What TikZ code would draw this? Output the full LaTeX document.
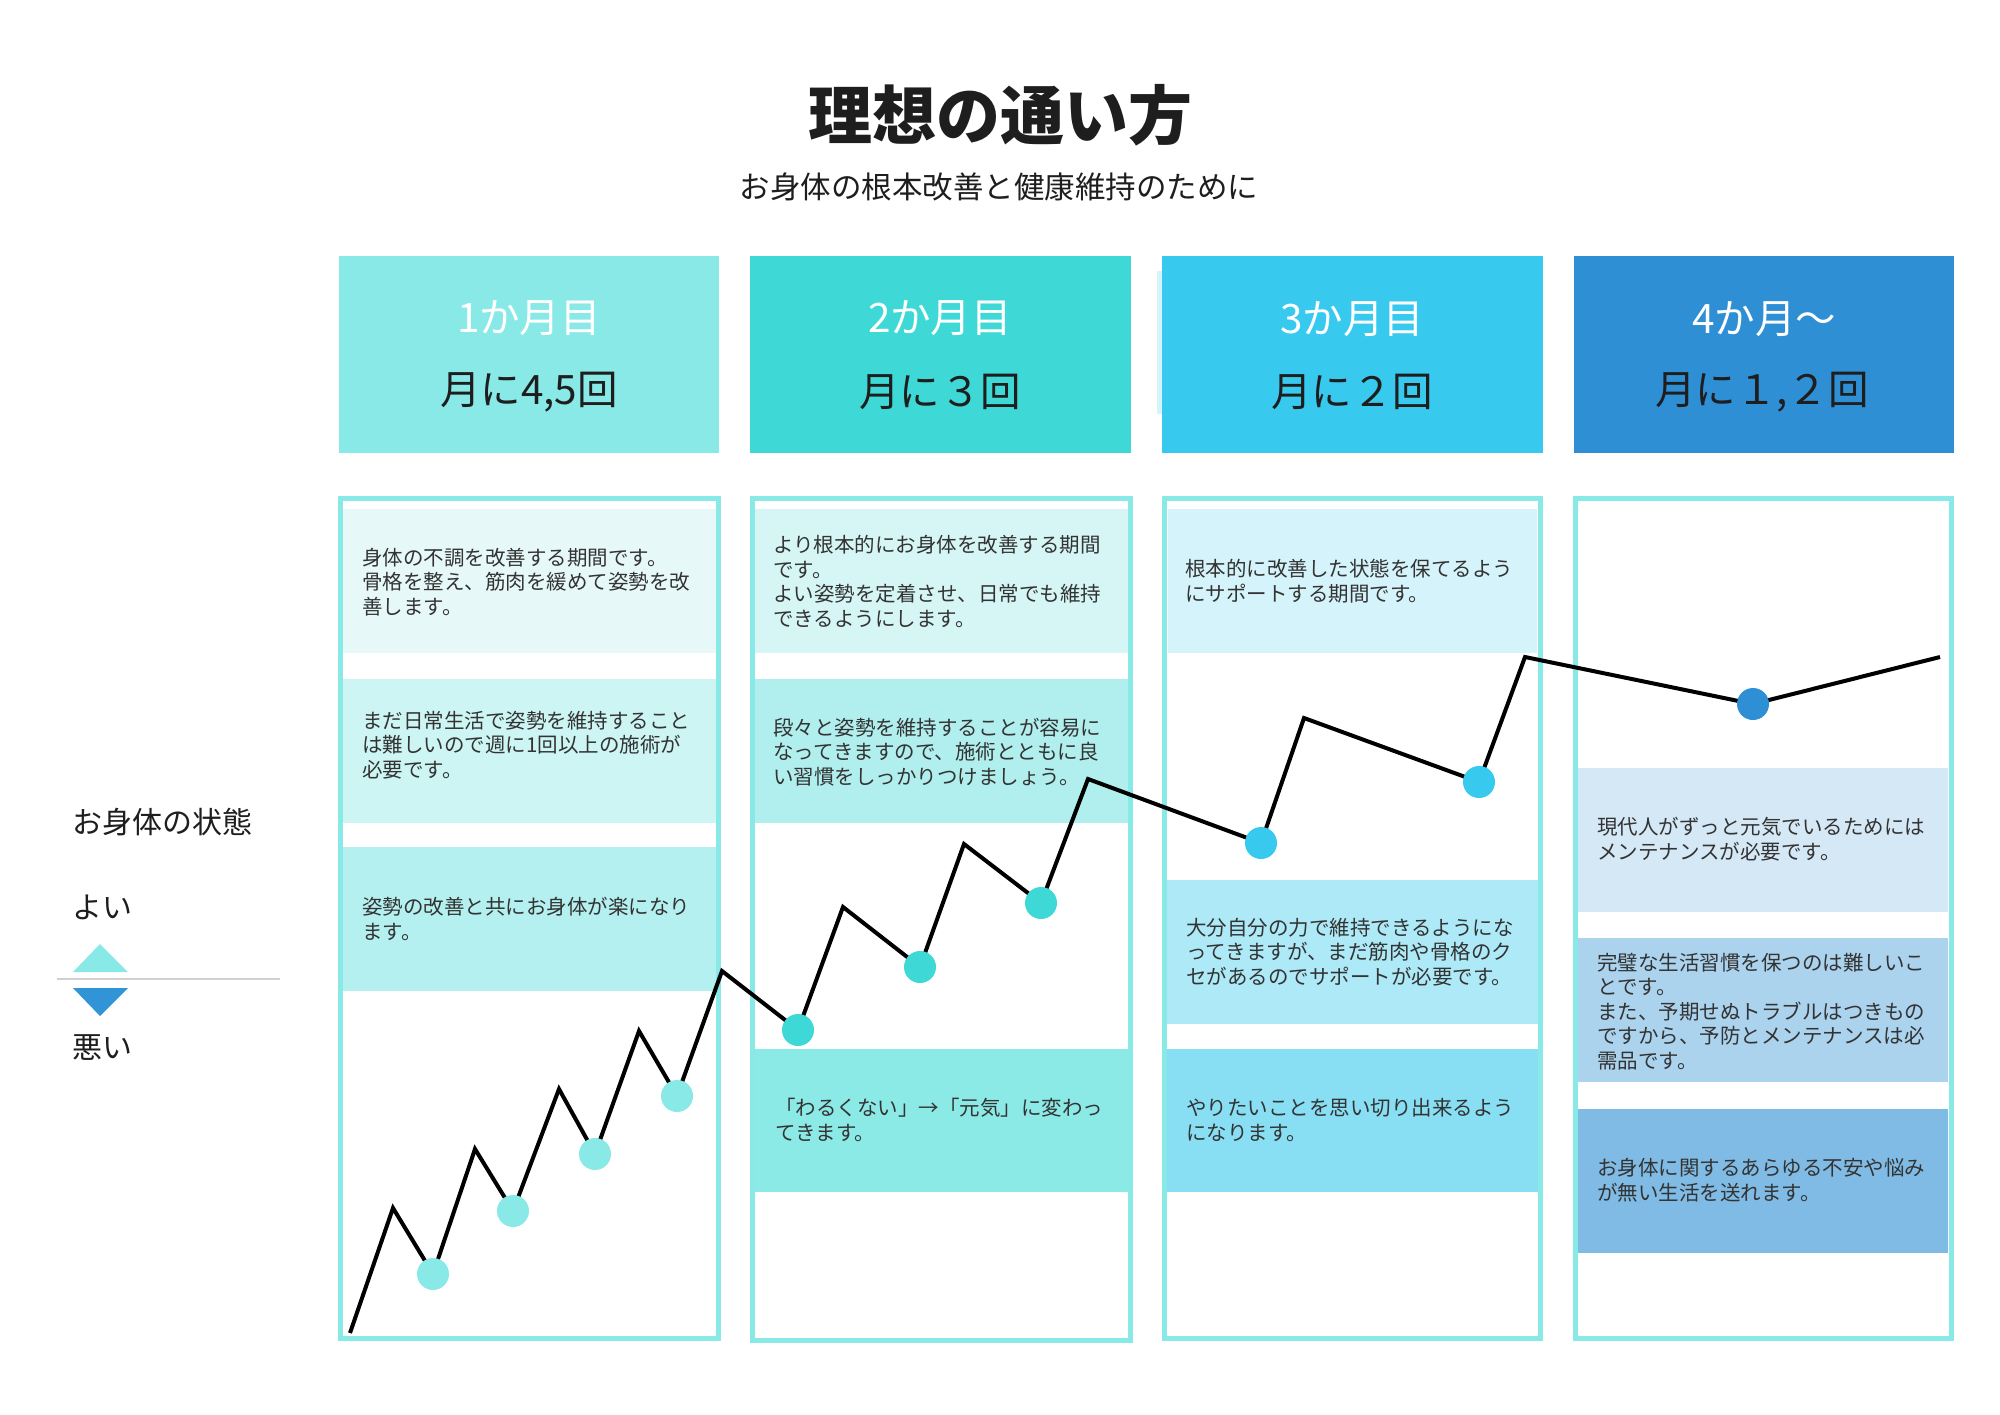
\documentclass[tikz,border=0pt]{standalone}
\usepackage{fontspec}
\setmainfont{Noto Sans CJK JP}
\definecolor{cA}{HTML}{88E9E7}
\definecolor{cB}{HTML}{3ED9D6}
\definecolor{cC}{HTML}{38C9EF}
\definecolor{cD}{HTML}{2E8FD5}
\definecolor{txt}{HTML}{333333}
\definecolor{hdtxt}{HTML}{1E1E1E}
\definecolor{pA1}{HTML}{E6F9F8}
\definecolor{pA2}{HTML}{CCF5F4}
\definecolor{pA3}{HTML}{B3F0EF}
\definecolor{pB1}{HTML}{D5F6F5}
\definecolor{pB2}{HTML}{B1EFEE}
\definecolor{pB3}{HTML}{8BE9E6}
\definecolor{pC1}{HTML}{D5F3FA}
\definecolor{pC2}{HTML}{ADE9F6}
\definecolor{pC3}{HTML}{88DEF3}
\definecolor{pD1}{HTML}{D5E8F6}
\definecolor{pD2}{HTML}{ABD3EE}
\definecolor{pD3}{HTML}{7FBBE4}
\definecolor{downtri}{HTML}{3094D6}
\definecolor{sep}{HTML}{D0D0D0}
\begin{document}
\begin{tikzpicture}[x=1pt,y=-1pt,
  body/.style={anchor=base west, align=left, inner sep=0pt, text=txt,
    font=\fontsize{20.5}{24.4}\selectfont},
  hdtop/.style={anchor=center, inner sep=0pt, text=white,
    font=\fontsize{40.5}{44}\selectfont},
  hdbot/.style={anchor=center, inner sep=0pt, text=hdtxt,
    font=\fontsize{40.5}{44}\selectfont},
  legend/.style={anchor=west, inner sep=0pt, text=hdtxt,
    font=\fontsize{30}{34}\selectfont},
  panel/.style={draw=cA, line width=5pt},
  chart/.style={draw=black, line width=4pt},
  dot/.style={circle, inner sep=0pt, minimum size=32pt},
]
\useasboundingbox (0,0) rectangle (2000,1414);
\fill[white] (0,0) rectangle (2000,1414);

% title
\node[anchor=center, inner sep=0pt, text=hdtxt,
  font=\fontsize{64}{70}\selectfont\bfseries] (title) at (1000,115) {理想の通い方};
\node[anchor=center, inner sep=0pt, text=hdtxt,
  font=\fontsize{30.5}{34}\selectfont] (subtitle) at (999,187) {お身体の根本改善と健康維持のために};

% headers
\fill[pC1] (1157,271) rectangle (1162,414);
\fill[cA] (339,256) rectangle (719,453);
\fill[cB] (750,256) rectangle (1131,453);
\fill[cC] (1162,256) rectangle (1543,453);
\fill[cD] (1574,256) rectangle (1954,453);
\node[hdtop] (h1t) at (529,318) {1か月目};
\node[hdbot] (h1b) at (529,392) {月に4,5回};
\node[hdtop] (h2t) at (940,318) {2か月目};
\node[hdbot] (h2b) at (940,392) {月に３回};
\node[hdtop] (h3t) at (1352,319) {3か月目};
\node[hdbot] (h3b) at (1352,392) {月に２回};
\node[hdtop] (h4t) at (1764,319) {4か月～};
\node[hdbot] (h4b) at (1762,392) {月に１,２回};

% content boxes
\fill[pA1] (343,509) rectangle (716,653);
\fill[pA2] (343,679) rectangle (716,823);
\fill[pA3] (343,847) rectangle (716,991);
\fill[pB1] (750,509) rectangle (1132,653);
\fill[pB2] (750,679) rectangle (1132,823);
\fill[pB3] (750,1049) rectangle (1132,1192);
\fill[pC1] (1168,509) rectangle (1537,653);
\fill[pC2] (1167,880) rectangle (1538,1024);
\fill[pC3] (1167,1049) rectangle (1543,1192);
\fill[pD1] (1578,768) rectangle (1948,912);
\fill[pD2] (1578,938) rectangle (1948,1082);
\fill[pD3] (1578,1109) rectangle (1948,1253);

% panels
\draw[panel] (340.5,498.5) rectangle (718.5,1338.5);
\draw[panel] (752.5,498.5) rectangle (1130.5,1340.5);
\draw[panel] (1164.5,498.5) rectangle (1540.5,1338.5);
\draw[panel] (1575.5,498.5) rectangle (1951.5,1338.5);

% texts (base = baseline of the last line)
\node[body] (t1a) at (362,614) {身体の不調を改善する期間です。\\骨格を整え、筋肉を緩めて姿勢を改\\善します。};
\node[body] (t1b) at (362,777) {まだ日常生活で姿勢を維持すること\\は難しいので週に1回以上の施術が\\必要です。};
\node[body] (t1c) at (362,939) {姿勢の改善と共にお身体が楽になり\\ます。};
\node[body] (t2a) at (773,626) {より根本的にお身体を改善する期間\\です。\\よい姿勢を定着させ、日常でも維持\\できるようにします。};
\node[body] (t2b) at (773,784) {段々と姿勢を維持することが容易に\\なってきますので、施術とともに良\\い習慣をしっかりつけましょう。};
\node[body] (t2c) at (775,1140) {「わるくない」→「元気」に変わっ\\てきます。};
\node[body] (t3a) at (1185,601) {根本的に改善した状態を保てるよう\\にサポートする期間です。};
\node[body] (t3b) at (1186,984) {大分自分の力で維持できるようにな\\ってきますが、まだ筋肉や骨格のク\\セがあるのでサポートが必要です。};
\node[body] (t3c) at (1186,1140) {やりたいことを思い切り出来るよう\\になります。};
\node[body] (t4a) at (1597,859) {現代人がずっと元気でいるためには\\メンテナンスが必要です。};
\node[body] (t4b) at (1597,1068) {完璧な生活習慣を保つのは難しいこ\\とです。\\また、予期せぬトラブルはつきもの\\ですから、予防とメンテナンスは必\\需品です。};
\node[body] (t4c) at (1597,1200) {お身体に関するあらゆる不安や悩み\\が無い生活を送れます。};

% legend
\node[legend] (lg) at (72,822) {お身体の状態};
\node[legend] (lgood) at (72,907) {よい};
\node[legend] (lbad) at (72,1048) {悪い};
\fill[cA] (73,972) -- (100,944) -- (128,972) -- cycle;
\fill[downtri] (73,988) -- (128,988) -- (100,1016) -- cycle;
\draw[sep, line width=2pt] (57,979) -- (280,979);

% chart
\coordinate (c0) at (350,1333);
\coordinate (c1) at (393,1208);
\coordinate (d1) at (433,1274);
\coordinate (c2) at (475,1149);
\coordinate (d2) at (513,1211);
\coordinate (c3) at (559,1089);
\coordinate (d3) at (595,1154);
\coordinate (c4) at (639,1031);
\coordinate (d4) at (677,1096);
\coordinate (c5) at (722,971);
\coordinate (d5) at (798,1030);
\coordinate (c6) at (843,907);
\coordinate (d6) at (920,967);
\coordinate (c7) at (964,844);
\coordinate (d7) at (1041,903);
\coordinate (c8) at (1088,779);
\coordinate (d8) at (1261,843);
\coordinate (c9) at (1304,718);
\coordinate (d9) at (1479,782);
\coordinate (c10) at (1525,657);
\coordinate (d10) at (1753,704);
\coordinate (c11) at (1940,657);
\draw[chart] (c0) -- (c1) -- (d1) -- (c2) -- (d2) -- (c3) -- (d3) -- (c4) -- (d4) -- (c5)
  -- (d5) -- (c6) -- (d6) -- (c7) -- (d7) -- (c8) -- (d8) -- (c9) -- (d9) -- (c10)
  -- (d10) -- (c11);
\node[dot, fill=cA] (n1) at (d1) {};
\node[dot, fill=cA] (n2) at (d2) {};
\node[dot, fill=cA] (n3) at (d3) {};
\node[dot, fill=cA] (n4) at (d4) {};
\node[dot, fill=cB] (n5) at (d5) {};
\node[dot, fill=cB] (n6) at (d6) {};
\node[dot, fill=cB] (n7) at (d7) {};
\node[dot, fill=cC] (n8) at (d8) {};
\node[dot, fill=cC] (n9) at (d9) {};
\node[dot, fill=cD] (n10) at (d10) {};
\end{tikzpicture}
\end{document}
